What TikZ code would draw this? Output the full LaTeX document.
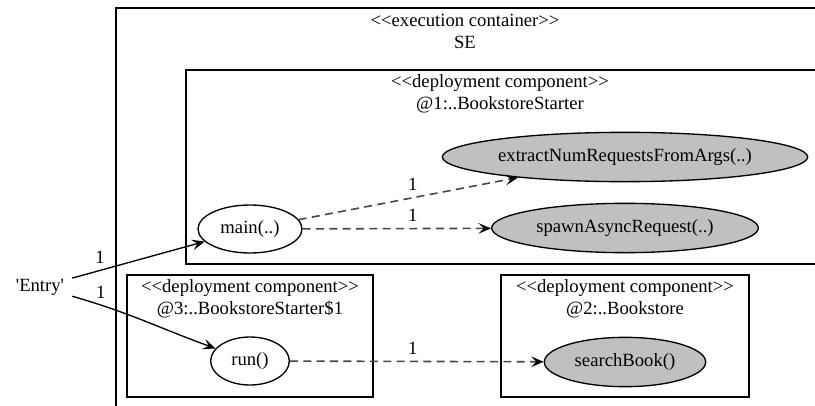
\documentclass[tikz,border=0pt]{standalone}
\usepackage{fontspec}
\setmainfont{Liberation Serif}[Ligatures=TeXOff]
\usetikzlibrary{arrows.meta,shapes.geometric}
\definecolor{methodfill}{RGB}{192,192,192}
\definecolor{asyncedge}{RGB}{70,70,70}
\newcommand{\stereo}[1]{<\kern0pt<#1>\kern0pt>}
\tikzset{
  cluster/.style={draw, line width=1.1pt},
  clusterlabel/.style={align=center, inner sep=0pt},
  method/.style={ellipse, draw, line width=1pt, fill=methodfill,
    minimum height=37pt, inner sep=0pt},
  entrymethod/.style={method, fill=white, minimum height=36pt},
  call/.style={-{Stealth[length=9.5pt, width=8pt, inset=4pt, color=black]}, line width=1pt},
  asynccall/.style={call, draw=asyncedge, line width=1.2pt, dash pattern=on 6pt off 4pt},
  count/.style={above=2.5pt, inner sep=2pt},
}

\begin{document}
\begin{tikzpicture}[x=0.75pt, y=0.75pt,
    every node/.style={font=\fontsize{14}{16.5}\selectfont}]
    \useasboundingbox (0,0) rectangle (815,405);
    % clusters
    \draw[cluster] (116,397) rectangle (830,-10);
    \draw[cluster] (186,335) rectangle (830,141);
    \draw[cluster] (127,130) rectangle (373,8);
    \draw[cluster] (501,130) rectangle (749,8);
    % cluster labels
    \node[clusterlabel] (se_label) at (465,374) {\stereo{execution container}\\SE};
    \node[clusterlabel] (starter_label) at (500,311) {\stereo{deployment component}\\@1:..BookstoreStarter};
    \node[clusterlabel] (anon_label) at (250,106) {\stereo{deployment component}\\@3:..BookstoreStarter\$1};
    \node[clusterlabel] (store_label) at (625,106) {\stereo{deployment component}\\@2:..Bookstore};
    % methods
    \node[minimum width=48pt, minimum height=36pt, inner sep=0pt] (entry) at (40,118) {'Entry'};
    \node[entrymethod, minimum width=78pt] (main) at (250,176) {main(..)};
    \node[method, minimum width=274pt] (extract) at (625,248) {extractNumRequestsFromArgs(..)};
    \node[method, minimum width=200pt] (spawn) at (625,177) {spawnAsyncRequest(..)};
    \node[entrymethod, minimum width=59pt] (run) at (250,44) {run()};
    \node[method, minimum width=121pt] (search) at (625,43) {searchBook()};
    % calls
    \draw[call] (entry) -- node[count, pos=0.21] (c_main) {1} (main);
    \draw[call] (entry) to[out=-16, in=160] node[count, pos=0.18] (c_run) {1} (run);
    \draw[asynccall] (main) -- node[count, pos=0.52] (c_extract) {1} (extract);
    \draw[asynccall] (main) -- node[count, pos=0.585] (c_spawn) {1} (spawn);
    \draw[asynccall] (run) -- node[count, pos=0.484] (c_search) {1} (search);
\end{tikzpicture}
\end{document}
